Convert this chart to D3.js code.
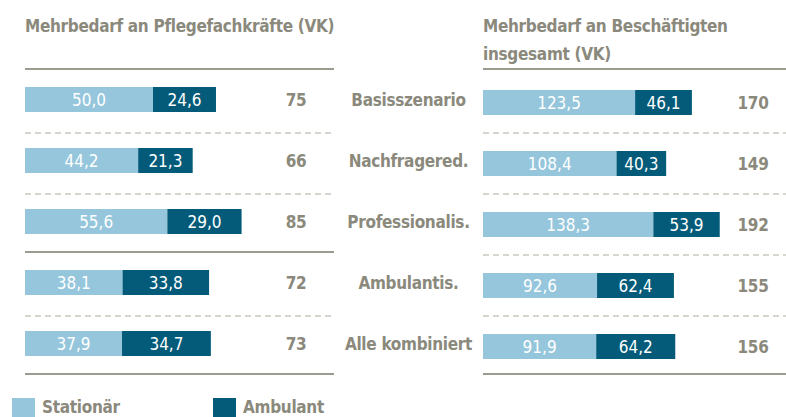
<!DOCTYPE html>
<html>
<head>
<meta charset="utf-8">
<script src="https://cdn.jsdelivr.net/npm/d3@7"></script>
<style>
  body { margin: 0; background: #ffffff; }
  svg text { font-family: "Liberation Sans Narrow", "DejaVu Sans Condensed", "Roboto", sans-serif; }
  .bold { font-size: 17px; font-weight: bold; letter-spacing: -0.3px; }
</style>
</head>
<body>
<svg id="chart" width="786" height="417"></svg>
<script>
// data
var scenarios = ["Basisszenario", "Nachfragered.", "Professionalis.", "Ambulantis.", "Alle kombiniert"];
var seriesNames = ["Stationär", "Ambulant"];

var pflegeStationaer = [50.0, 44.2, 55.6, 38.1, 37.9];
var pflegeAmbulant = [24.6, 21.3, 29.0, 33.8, 34.7];
var pflegeTotal = [75, 66, 85, 72, 73];

var gesamtStationaer = [123.5, 108.4, 138.3, 92.6, 91.9];
var gesamtAmbulant = [46.1, 40.3, 53.9, 62.4, 64.2];
var gesamtTotal = [170, 149, 192, 155, 156];

var titleLeft = ["Mehrbedarf an Pflegefachkräfte (VK)"];
var titleRight = ["Mehrbedarf an Beschäftigten", "insgesamt (VK)"];

var width = 786;
var height = 417;

var color = d3.scaleOrdinal()
  .domain(seriesNames)
  .range(["#95c6dc", "#045b79"]);

var grey = "#8a897c";
var fmt = function(v) { return d3.format(".1f")(v).replace(".", ","); };

var svg = d3.select("#chart");

var y = d3.scaleBand()
  .domain(scenarios)
  .range([69, 374]);

var xLeft = d3.scaleLinear().domain([0, 120.7]).range([25, 334]);
var xRight = d3.scaleLinear().domain([0, 246]).range([483, 786]);

function panel(x, stat, amb, total, title, barOffset, solidAfter) {
  var g = svg.append("g");

  var rows = scenarios.map(function(name, i) {
    return {
      name: name,
      total: total[i],
      parts: [
        { key: seriesNames[0], x0: 0, x1: stat[i] },
        { key: seriesNames[1], x0: stat[i], x1: stat[i] + amb[i] }
      ]
    };
  });

  // title
  g.append("text")
    .attr("class", "bold")
    .attr("x", x.range()[0])
    .attr("y", 32)
    .style("fill", grey)
    .selectAll("tspan")
    .data(title)
    .enter().append("tspan")
    .attr("x", x.range()[0])
    .attr("dy", function(d, i) { return i == 0 ? 0 : 28; })
    .text(function(d) { return d; });

  // separator lines
  var lines = scenarios.map(function(d) { return y(d); }).concat([y.range()[1]]);
  var solid = function(i) { return i == 0 || i == lines.length - 1 || i == solidAfter; };
  g.selectAll(".sep")
    .data(lines)
    .enter().append("line")
    .attr("class", "sep")
    .attr("x1", x.range()[0])
    .attr("x2", x.range()[1])
    .attr("y1", function(d, i) { return solid(i) ? d : d + 3; })
    .attr("y2", function(d, i) { return solid(i) ? d : d + 3; })
    .style("stroke", function(d, i) { return solid(i) ? "#9c9b90" : "#c9c8bf"; })
    .style("stroke-width", function(d, i) { return solid(i) ? 2 : 1.5; })
    .style("stroke-dasharray", function(d, i) { return solid(i) ? null : "6,4"; });

  var row = g.selectAll(".row")
    .data(rows)
    .enter().append("g")
    .attr("class", "row")
    .attr("transform", function(d) {
      return "translate(0," + (y(d.name) + barOffset) + ")";
    });

  row.selectAll("rect")
    .data(function(d) { return d.parts; })
    .enter().append("rect")
    .attr("x", function(d) { return x(d.x0); })
    .attr("width", function(d) { return x(d.x1) - x(d.x0); })
    .attr("height", 25)
    .style("fill", function(d) { return color(d.key); });

  row.selectAll(".val")
    .data(function(d) { return d.parts; })
    .enter().append("text")
    .attr("class", "val")
    .attr("x", function(d) { return (x(d.x0) + x(d.x1)) / 2; })
    .attr("y", 19)
    .style("text-anchor", "middle")
    .style("font-size", "17px")
    .style("fill", "white")
    .text(function(d) { return fmt(d.x1 - d.x0); });

  row.append("text")
    .attr("class", "bold")
    .attr("x", x.range()[1] - 38 + (x === xRight ? 5 : 0))
    .attr("y", 19)
    .style("text-anchor", "middle")
    .style("fill", grey)
    .text(function(d) { return d.total; });
}

panel(xLeft, pflegeStationaer, pflegeAmbulant, pflegeTotal, titleLeft, 18, 3);
panel(xRight, gesamtStationaer, gesamtAmbulant, gesamtTotal, titleRight, 21, -1);

// category labels in the middle
svg.selectAll(".cat")
  .data(scenarios)
  .enter().append("text")
  .attr("class", "cat bold")
  .attr("x", (xLeft.range()[1] + xRight.range()[0]) / 2)
  .attr("y", function(d) { return y(d) + 37; })
  .style("text-anchor", "middle")
  .style("fill", grey)
  .text(function(d) { return d; });

// legend
var legend = svg.selectAll(".legend")
  .data(seriesNames)
  .enter().append("g")
  .attr("class", "legend")
  .attr("transform", function(d, i) {
    return "translate(" + (12 + i * 201) + ",398)";
  });

legend.append("rect")
  .attr("width", 23)
  .attr("height", 22)
  .style("fill", color);

legend.append("text")
  .attr("class", "bold")
  .attr("x", 30)
  .attr("y", 15)
  .style("fill", grey)
  .text(function(d) { return d; });
</script>
</body>
</html>
